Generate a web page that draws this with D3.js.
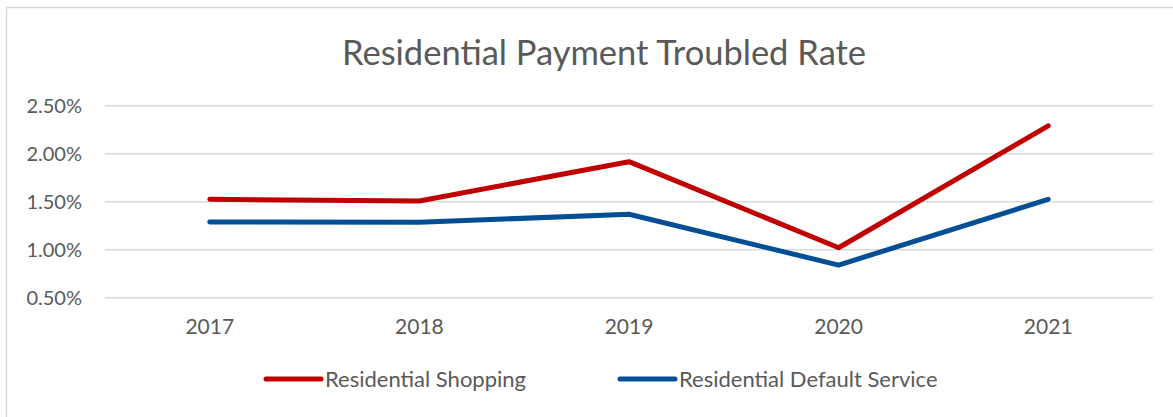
<!DOCTYPE html>
<html>
<head>
<meta charset="utf-8">
<script src="https://cdn.jsdelivr.net/npm/d3@7"></script>
<style>
  html, body { margin: 0; padding: 0; background: #fff; }
  svg { display: block; font-family: Lato, "Open Sans", sans-serif; }
</style>
</head>
<body>
<svg id="chart" width="1173" height="417"></svg>
<script>
const years = ["2017", "2018", "2019", "2020", "2021"];
const shopping = [0.01525, 0.01507, 0.01917, 0.0102, 0.0229];
const defaultService = [0.01289, 0.01286, 0.01369, 0.0084, 0.01525];
const yTicks = [0.005, 0.01, 0.015, 0.02, 0.025];

const seriesNames = ["Residential Shopping", "Residential Default Service"];
const seriesColors = ["#C00000", "#034E95"];

const svg = d3.select("#chart");
const textColor = "#595959";

// chart frame (only left and top visible in the crop)
svg.append("rect")
  .attr("x", 6.5).attr("y", 7.5)
  .attr("width", 1180).attr("height", 420)
  .attr("fill", "#fff")
  .attr("stroke", "#D9D9D9")
  .attr("stroke-width", 1.5);

const x = d3.scaleBand().domain(years).range([105, 1153]);
const y = d3.scaleLinear().domain([0.005, 0.025]).range([297.7, 105.7]);

// gridlines
svg.append("g")
  .selectAll("line")
  .data(yTicks)
  .join("line")
  .attr("x1", 105).attr("x2", 1153)
  .attr("y1", (d) => y(d)).attr("y2", (d) => y(d))
  .attr("stroke", "#D9D9D9")
  .attr("stroke-width", 1.5);

// y axis labels
const yAxis = d3.axisLeft(y)
  .tickValues(yTicks)
  .tickSize(0)
  .tickPadding(23)
  .tickFormat(d3.format(".2%"));

svg.append("g")
  .attr("transform", "translate(105,0)")
  .call(yAxis)
  .call((g) => g.select(".domain").remove())
  .selectAll("text")
  .attr("fill", textColor)
  .attr("font-family", "Lato, sans-serif")
  .attr("font-size", 20);

// x axis labels
const xAxis = d3.axisBottom(x).tickSize(0).tickPadding(21);
svg.append("g")
  .attr("transform", "translate(0,297.7)")
  .call(xAxis)
  .call((g) => g.select(".domain").remove())
  .selectAll("text")
  .attr("fill", textColor)
  .attr("font-family", "Lato, sans-serif")
  .attr("font-size", 21);

// lines
const line = d3.line()
  .x((d, i) => x(years[i]) + x.bandwidth() / 2)
  .y((d) => y(d));

[shopping, defaultService].forEach((values, i) => {
  svg.append("path")
    .datum(values)
    .attr("d", line)
    .attr("fill", "none")
    .attr("stroke", seriesColors[i])
    .attr("stroke-width", 5)
    .attr("stroke-linejoin", "round")
    .attr("stroke-linecap", "round");
});

// title
svg.append("text")
  .attr("x", 604).attr("y", 65)
  .attr("text-anchor", "middle")
  .attr("fill", textColor)
  .attr("font-size", 34.5)
  .text("Residential Payment Troubled Rate");

// legend
const legendX = [266, 620];
const legend = svg.append("g")
  .selectAll("g")
  .data(seriesNames)
  .join("g")
  .attr("transform", (d, i) => `translate(${legendX[i]},379)`);

legend.append("line")
  .attr("x1", 0).attr("x2", 55)
  .attr("stroke", (d, i) => seriesColors[i])
  .attr("stroke-width", 5)
  .attr("stroke-linecap", "round");

legend.append("text")
  .attr("x", 59).attr("y", 7.5)
  .attr("fill", textColor)
  .attr("font-size", 22)
  .text((d) => d);
</script>
</body>
</html>
